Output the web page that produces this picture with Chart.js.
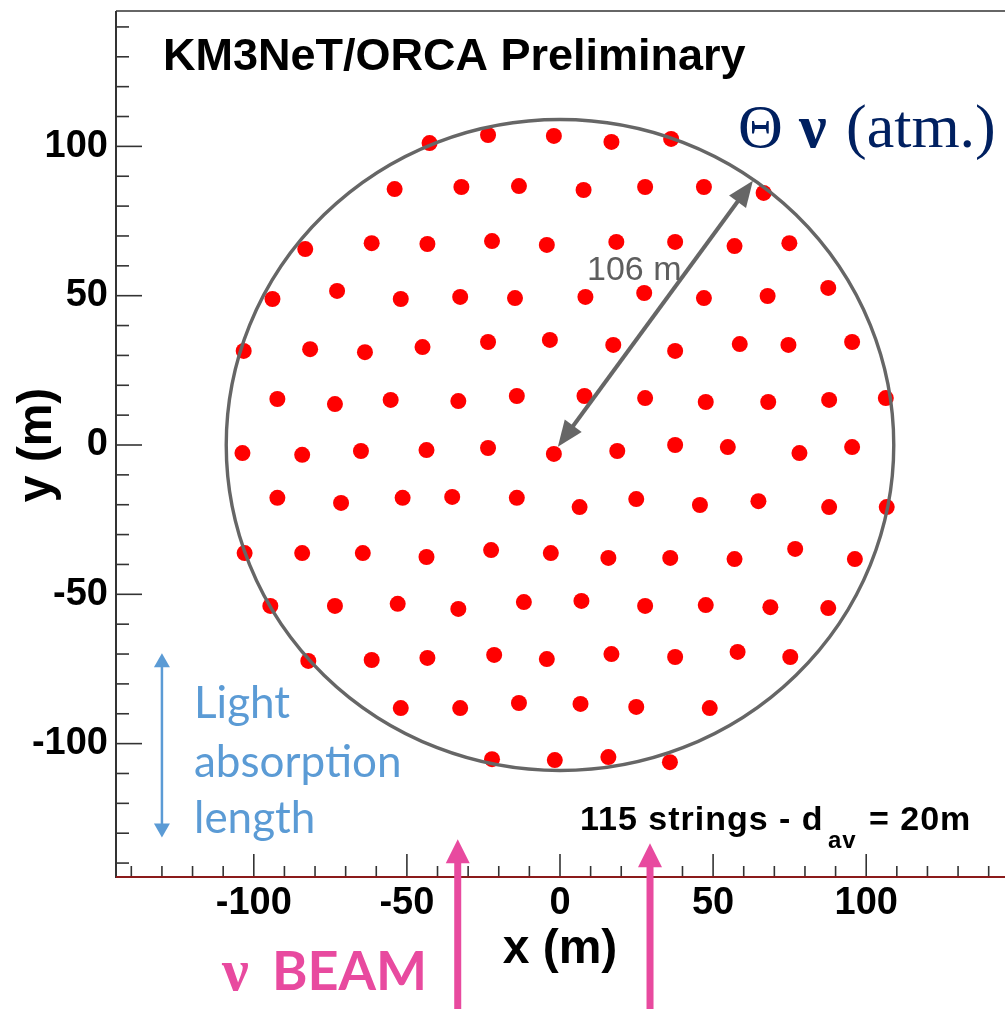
<!DOCTYPE html>
<html>
<head>
<meta charset="utf-8">
<script src="https://cdn.jsdelivr.net/npm/chart.js@4.4.1/dist/chart.umd.min.js"></script>
<style>
  html, body { margin: 0; padding: 0; background: #fff; overflow: hidden; }
  #wrap { width: 1005px; height: 1009px; overflow: hidden; }
</style>
</head>
<body>
<div id="wrap"><canvas id="orca" width="1012" height="1009"></canvas></div>
<script>
// --- DATA: string positions (m), one line per row of the footprint ---
const STRING_X = [
  -42.6, -23.5, -2.0, 16.8, 36.3,
  -54.0, -32.2, -13.4, 7.7, 27.8, 47.0, 66.5,
  -83.2, -61.5, -43.3, -22.2, -4.3, 18.4, 37.6, 57.0, 74.9,
  -93.9, -72.8, -52.0, -32.6, -14.7, 8.3, 27.5, 47.0, 67.8, 87.6,
  -103.3, -81.6, -63.7, -44.9, -23.5, -3.3, 17.4, 37.6, 58.7, 74.6, 95.4,
  -92.3, -73.5, -55.3, -33.2, -14.1, 8.0, 27.8, 47.6, 68.0, 87.9, 106.4,
  -103.7, -84.2, -65.0, -43.6, -23.5, -2.0, 18.7, 37.6, 54.8, 78.2, 95.4,
  -92.3, -71.5, -51.4, -35.2, -14.1, 6.4, 24.9, 45.7, 64.8, 87.9, 106.7,
  -103.0, -84.2, -64.4, -43.6, -22.5, -3.0, 15.8, 36.0, 57.0, 76.8, 96.3,
  -94.6, -73.5, -53.0, -33.2, -11.8, 7.0, 27.8, 47.6, 68.7, 87.6,
  -82.2, -61.5, -43.3, -21.5, -4.3, 16.8, 37.6, 58.0, 75.2,
  -52.0, -32.6, -13.4, 6.7, 24.9, 48.9,
  -22.2, -1.7, 15.8, 35.9
];
const STRING_Y = [
  101.1, 103.8, 103.5, 101.5, 102.5,
  85.7, 86.4, 86.7, 85.4, 86.4, 86.4, 84.4,
  65.6, 67.6, 67.3, 68.3, 67.0, 68.0, 68.0, 66.6, 67.6,
  48.9, 51.6, 48.9, 49.6, 49.2, 49.6, 50.9, 49.2, 49.9, 52.6,
  31.5, 32.1, 31.1, 32.8, 34.5, 35.2, 33.5, 31.5, 33.8, 33.5, 34.5,
  15.4, 13.7, 15.1, 14.7, 16.4, 16.4, 15.7, 14.4, 14.4, 15.1, 15.7,
  -2.7, -3.3, -2.0, -1.7, -1.0, -3.0, -2.0, 0.0, -0.7, -2.7, -0.7,
  -17.7, -19.4, -17.7, -17.4, -17.7, -20.8, -18.1, -20.1, -18.8, -20.8, -20.8,
  -36.2, -36.2, -36.2, -37.5, -35.2, -36.2, -37.8, -37.8, -38.2, -34.8, -38.2,
  -53.9, -53.9, -53.2, -54.9, -52.6, -52.2, -53.9, -53.6, -54.3, -54.6,
  -72.3, -72.0, -71.3, -70.3, -71.7, -70.0, -71.0, -69.3, -71.0,
  -88.1, -88.1, -86.4, -86.7, -87.7, -88.1,
  -105.2, -105.5, -104.5, -106.2
];

const X_TICKS = [-100, -50, 0, 50, 100];
const Y_TICKS = [-100, -50, 0, 50, 100];
const MINOR_STEP = 10;
const AXIS_MIN = -145, AXIS_MAX = 145;

const CIRCLE_RADIUS = 109;          // detector outline (m)
const RADIUS_ARROW = [[-0.7, -0.6], [63.0, 88.5]];
const LIGHT_ARROW = { x: -130, y1: -69.7, y2: -131.4 };
const BEAM_ARROWS = [{ x: -33.4, tip: -132.0 }, { x: 29.4, tip: -133.4 }];

const SANS = "'Liberation Sans', Arial, Helvetica, sans-serif";
const SERIF = "'Liberation Serif', 'Times New Roman', serif";
const PINK = '#e84a9f';
const BLUE = '#5b9bd5';
const NAVY = '#002060';

function arrowHead(ctx, x, y, ang, len, wid) {
  const c = Math.cos(ang), s = Math.sin(ang);
  ctx.beginPath();
  ctx.moveTo(x, y);
  ctx.lineTo(x - len * c + wid / 2 * s, y - len * s - wid / 2 * c);
  ctx.lineTo(x - len * c - wid / 2 * s, y - len * s + wid / 2 * c);
  ctx.closePath();
  ctx.fill();
}

// --- frame, ticks, outline and annotations ---
const decorations = {
  id: 'decorations',
  afterDatasetsDraw(chart) {
    const { ctx, chartArea: a, scales: { x, y } } = chart;
    ctx.save();

    // ROOT style inward ticks
    ctx.strokeStyle = '#333';
    ctx.lineWidth = 1.6;
    for (let v = -140; v <= 140; v += MINOR_STEP) {
      const major = v % 50 === 0;
      const py = y.getPixelForValue(v);
      ctx.beginPath(); ctx.moveTo(a.left, py); ctx.lineTo(a.left + (major ? 26 : 13), py); ctx.stroke();
      const px = x.getPixelForValue(v);
      ctx.beginPath(); ctx.moveTo(px, a.bottom); ctx.lineTo(px, a.bottom - (major ? 24 : 12)); ctx.stroke();
    }
    ctx.lineWidth = 2;
    ctx.beginPath(); ctx.moveTo(a.left, a.top - 1); ctx.lineTo(a.left, a.bottom); ctx.stroke();
    ctx.lineWidth = 1.5;
    ctx.beginPath(); ctx.moveTo(a.left, a.top - 1); ctx.lineTo(chart.width, a.top - 1); ctx.stroke();
    ctx.strokeStyle = '#8b1a1a';
    ctx.lineWidth = 2;
    ctx.beginPath(); ctx.moveTo(a.left, a.bottom - 1); ctx.lineTo(chart.width, a.bottom - 1); ctx.stroke();

    // detector outline
    const cx = x.getPixelForValue(0), cy = y.getPixelForValue(0);
    const rx = x.getPixelForValue(CIRCLE_RADIUS) - cx;
    const ry = cy - y.getPixelForValue(CIRCLE_RADIUS);
    ctx.strokeStyle = '#666';
    ctx.lineWidth = 3.4;
    ctx.beginPath(); ctx.ellipse(cx, cy, rx, ry, 0, 0, Math.PI * 2); ctx.stroke();

    // radius arrow
    const p1 = [x.getPixelForValue(RADIUS_ARROW[0][0]), y.getPixelForValue(RADIUS_ARROW[0][1])];
    const p2 = [x.getPixelForValue(RADIUS_ARROW[1][0]), y.getPixelForValue(RADIUS_ARROW[1][1])];
    const ang = Math.atan2(p2[1] - p1[1], p2[0] - p1[0]);
    const hl = 26;
    ctx.lineWidth = 4;
    ctx.fillStyle = '#666';
    ctx.beginPath();
    ctx.moveTo(p1[0] + hl * 0.8 * Math.cos(ang), p1[1] + hl * 0.8 * Math.sin(ang));
    ctx.lineTo(p2[0] - hl * 0.8 * Math.cos(ang), p2[1] - hl * 0.8 * Math.sin(ang));
    ctx.stroke();
    arrowHead(ctx, p2[0], p2[1], ang, hl, 21);
    arrowHead(ctx, p1[0], p1[1], ang + Math.PI, hl, 21);
    ctx.fillStyle = '#5e5e5e';
    ctx.font = '34px ' + SANS;
    ctx.textAlign = 'left';
    ctx.textBaseline = 'alphabetic';
    ctx.fillText('106 m', 587, 280);

    // light absorption length arrow
    const lx = x.getPixelForValue(LIGHT_ARROW.x);
    const ly1 = y.getPixelForValue(LIGHT_ARROW.y1), ly2 = y.getPixelForValue(LIGHT_ARROW.y2);
    ctx.strokeStyle = BLUE; ctx.fillStyle = BLUE; ctx.lineWidth = 2.5;
    ctx.beginPath(); ctx.moveTo(lx, ly1 + 10); ctx.lineTo(lx, ly2 - 10); ctx.stroke();
    arrowHead(ctx, lx, ly1, -Math.PI / 2, 14, 16);
    arrowHead(ctx, lx, ly2, Math.PI / 2, 14, 16);
    ctx.font = '44px Lato, sans-serif';
    ctx.fillText('Light', 194, 718);
    ctx.fillText('absorption', 194, 777);
    ctx.fillText('length', 194, 833);

    // beam arrows
    ctx.strokeStyle = PINK; ctx.fillStyle = PINK; ctx.lineWidth = 7;
    BEAM_ARROWS.forEach(b => {
      const bx = x.getPixelForValue(b.x), by = y.getPixelForValue(b.tip);
      ctx.beginPath(); ctx.moveTo(bx, chart.height); ctx.lineTo(bx, by + 20); ctx.stroke();
      arrowHead(ctx, bx, by, -Math.PI / 2, 24, 24);
    });
    ctx.font = 'bold 60px ' + SERIF;
    ctx.fillText('ν', 222, 990);
    ctx.font = 'bold 54px Lato, sans-serif';
    ctx.fillText('BEAM', 272, 990);

    // labels
    ctx.fillStyle = '#000';
    ctx.font = 'bold 45px ' + SANS;
    ctx.fillText('KM3NeT/ORCA Preliminary', 163, 70);
    ctx.letterSpacing = '1px';
    ctx.font = 'bold 34px ' + SANS;
    ctx.fillText('115 strings - d', 580, 830);
    ctx.font = 'bold 24px ' + SANS;
    ctx.fillText('av', 828, 848);
    ctx.font = 'bold 34px ' + SANS;
    ctx.fillText('= 20m', 869, 830);
    ctx.letterSpacing = '0px';

    ctx.fillStyle = NAVY;
    ctx.font = '62px ' + SERIF;
    ctx.fillText('Θ', 738, 147);
    ctx.font = 'bold 62px ' + SERIF;
    ctx.fillText('ν', 799, 147);
    ctx.font = '62px ' + SERIF;
    ctx.fillText('(atm.)', 846, 147);

    ctx.restore();
  }
};

const points = STRING_X.map((v, i) => ({ x: v, y: STRING_Y[i] }));

new Chart(document.getElementById('orca'), {
  type: 'scatter',
  data: {
    datasets: [{
      data: points,
      backgroundColor: '#ff0000',
      borderWidth: 0,
      pointRadius: 8,
      pointHoverRadius: 8
    }]
  },
  options: {
    responsive: false,
    animation: false,
    events: [],
    layout: { padding: { left: 0, top: 12, right: 3, bottom: 0 } },
    plugins: { legend: { display: false }, tooltip: { enabled: false } },
    scales: {
      x: {
        type: 'linear', position: 'bottom', min: AXIS_MIN, max: AXIS_MAX,
        grid: { display: false, drawTicks: false },
        border: { display: false },
        afterBuildTicks: s => { s.ticks = X_TICKS.map(v => ({ value: v })); },
        afterFit: s => { s.height = 131; s.paddingLeft = 0; s.paddingRight = 0; },
        ticks: { color: '#000', padding: 3, maxRotation: 0, autoSkip: false,
                 font: { family: SANS, weight: 'bold', size: 38 } },
        title: { display: true, text: 'x (m)', color: '#000',
                 font: { family: SANS, weight: 'bold', size: 48 }, padding: { top: 0, bottom: 30 } }
      },
      y: {
        type: 'linear', position: 'left', min: AXIS_MIN, max: AXIS_MAX,
        grid: { display: false, drawTicks: false },
        border: { display: false },
        afterBuildTicks: s => { s.ticks = Y_TICKS.map(v => ({ value: v })); },
        afterFit: s => { s.width = 116; s.paddingTop = 0; s.paddingBottom = 0; },
        ticks: { color: '#000', padding: 8, autoSkip: false,
                 font: { family: SANS, weight: 'bold', size: 38 } },
        title: { display: true, text: 'y (m)', color: '#000',
                 font: { family: SANS, weight: 'bold', size: 48 }, padding: { top: 9, bottom: 0 } }
      }
    }
  },
  plugins: [decorations]
});
</script>
</body>
</html>
